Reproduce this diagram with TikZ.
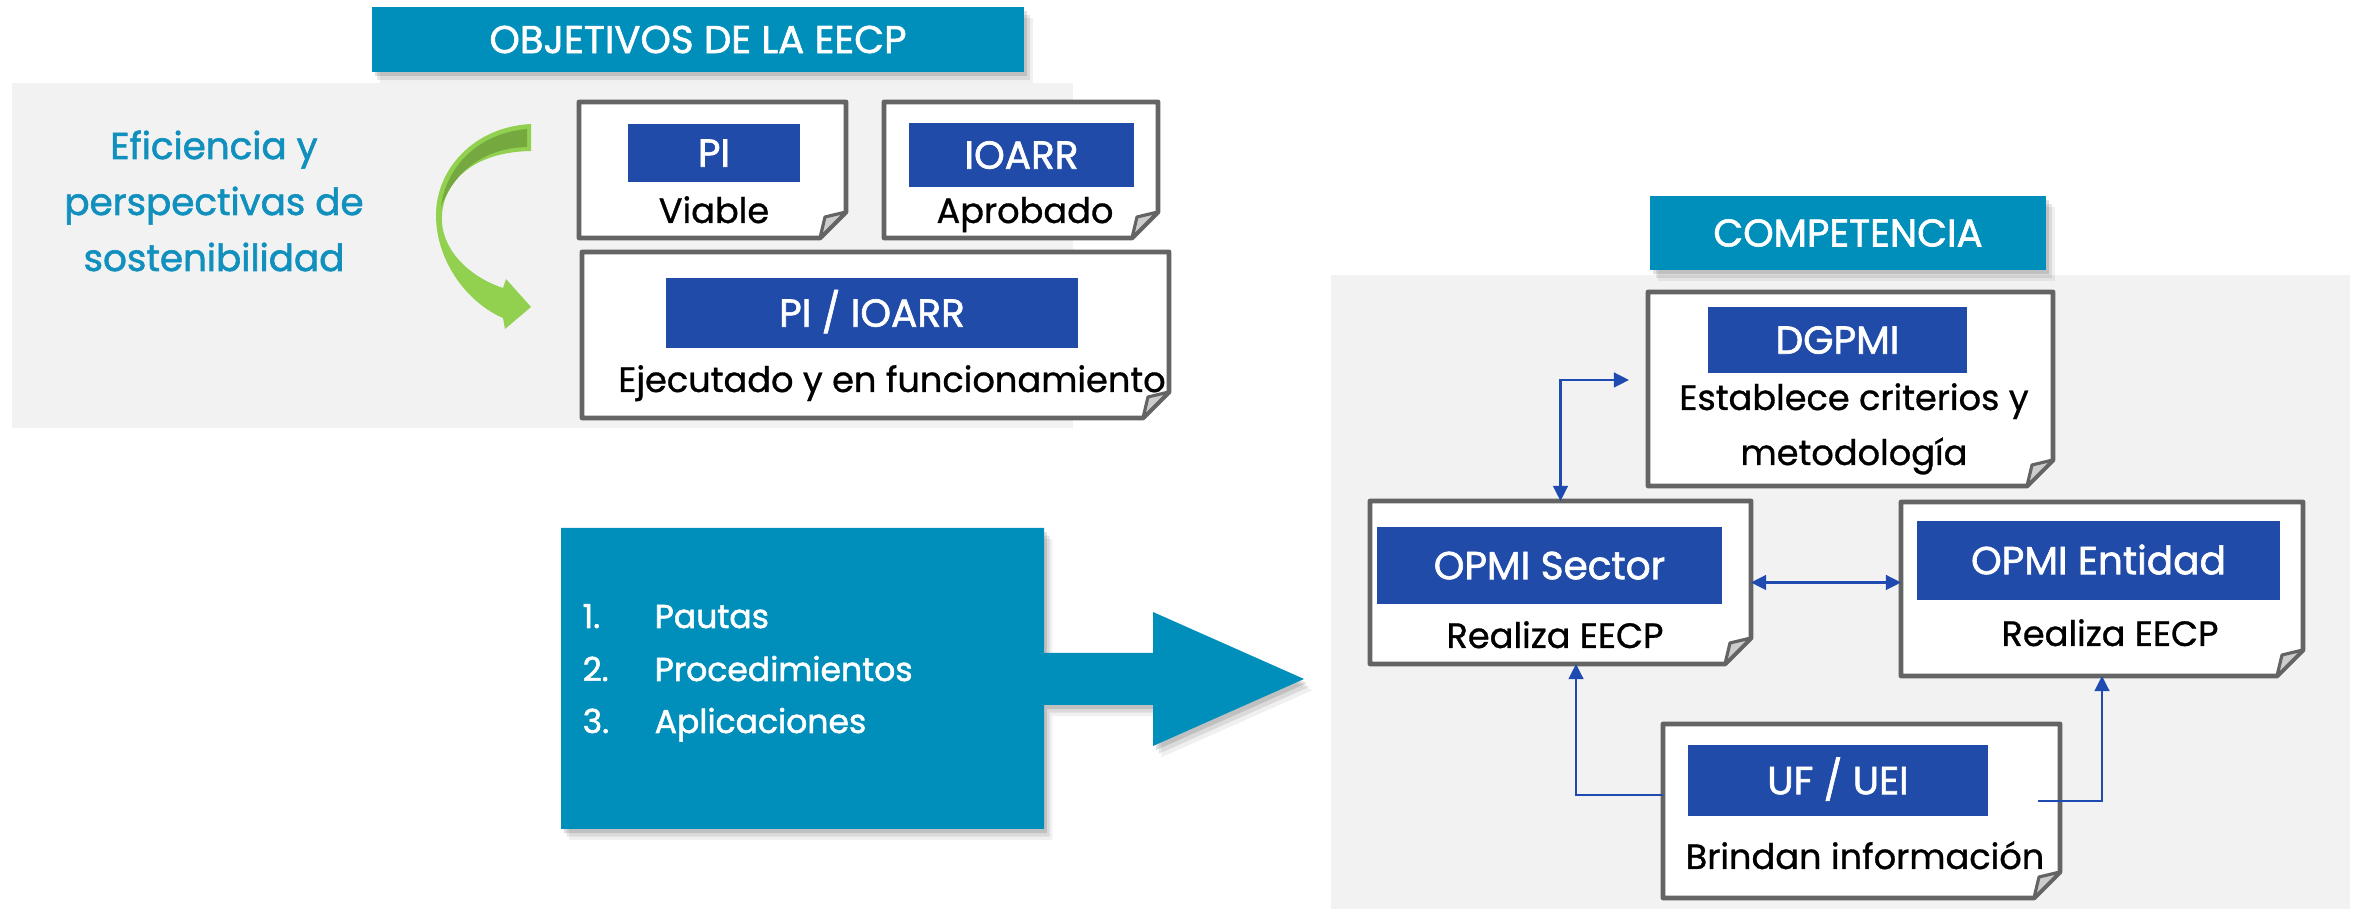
\documentclass[tikz,border=0pt]{standalone}
\usepackage{fontspec}
\setmainfont{Poppins}
\newfontfamily\semib[FakeBold=1.6]{Poppins}
\newfontfamily\lightb[FakeBold=0.9]{Poppins}
\usetikzlibrary{arrows.meta,fit,shadows}
\definecolor{teal1}{RGB}{0,142,186}
\definecolor{lblue}{RGB}{33,75,168}
\definecolor{bggray}{RGB}{242,242,242}
\definecolor{bordergray}{RGB}{100,100,100}
\definecolor{foldgray}{RGB}{205,205,205}
\definecolor{glight}{RGB}{146,208,80}
\definecolor{gdark}{RGB}{118,168,64}
\definecolor{connblue}{RGB}{31,75,176}
\definecolor{tealtext}{RGB}{17,144,190}
\tikzset{
 softshadow/.style={
   drop shadow={shadow xshift=0.8pt,shadow yshift=-1.2pt,opacity=0.12,fill=black},
   drop shadow={shadow xshift=1.6pt,shadow yshift=-2.2pt,opacity=0.09,fill=black},
   drop shadow={shadow xshift=2.4pt,shadow yshift=-3.2pt,opacity=0.06,fill=black}},
 titlebox/.style={fill=teal1,text=white,font=\semib\fontsize{11}{13}\selectfont,inner sep=0pt,text height=7.7pt,text depth=0pt,softshadow},
 lab/.style={fill=lblue,text=white,font=\semib\fontsize{11.1}{13}\selectfont,inner sep=0pt,text height=7.8pt,text depth=0pt},
 desc/.style={font=\lightb\fontsize{10}{12}\selectfont,anchor=base,inner sep=0pt},
 tealtxt/.style={font=\semib\fontsize{10.6}{14}\selectfont,text=tealtext,anchor=base,inner sep=0pt},
 listtxt/.style={font=\semib\fontsize{9.4}{12}\selectfont,text=white,anchor=base west,inner sep=0pt},
 noteline/.style={draw=bordergray,line width=1.35pt,fill=white,line join=round},
 foldline/.style={draw=bordergray,line width=0.9pt,fill=foldgray,line join=round},
 conn/.style={draw=connblue,line width=0.65pt,>={Triangle[length=4.3pt,width=4.2pt]}},
}
\newcommand\notebox[5]{%
 \coordinate (#1-a) at (#2,#3);
 \coordinate (#1-b) at (#4,#5);
 \node[inner sep=0pt,outer sep=0pt,fit=(#1-a)(#1-b)] (#1) {};
 \draw[noteline] (#1.north west) -- (#1.north east) -- ([yshift=0.26cm]#1.south east) -- ([xshift=-0.26cm]#1.south east) -- (#1.south west) -- cycle;
 \draw[foldline] ([yshift=0.26cm]#1.south east) -- ([xshift=-0.21cm,yshift=0.21cm]#1.south east) -- ([xshift=-0.26cm]#1.south east) -- cycle;
}
\begin{document}
\begin{tikzpicture}[x=0.01cm,y=-0.01cm]
\useasboundingbox (0,0) rectangle (2359,910);
% backgrounds
\fill[bggray] (12,83) rectangle (1073,428);
\fill[bggray] (1331,275) rectangle (2350,909);
% titles
\node[titlebox,minimum width=6.52cm,minimum height=0.65cm] (t1) at (698,39.5) {OBJETIVOS DE LA EECP};
\node[titlebox,minimum width=3.96cm,minimum height=0.74cm] (t2) at (1848,233) {COMPETENCIA};
% left text
\node[tealtxt] (eff1) at (214,159) {Eficiencia y};
\node[tealtxt] (eff2) at (214,215) {perspectivas de};
\node[tealtxt] (eff3) at (214,271) {sostenibilidad};
% green curved arrow
\path[fill=glight] (531,124) .. controls (473,127) and (436,170) .. (436,215)
  .. controls (436,262) and (468,303) .. (503,318) -- (505,329) -- (531,307) -- (506,279) -- (503,288)
  .. controls (475,279) and (444,255) .. (442,222) .. controls (440,185) and (470,152) .. (531,151) -- cycle;
\path[fill=gdark] (527,129) -- (527,147) .. controls (485,148) and (455,170) .. (441,207)
  .. controls (445,172) and (473,134) .. (527,129) -- cycle;
% big teal arrow
\path[fill=teal1,softshadow] (561,528) -- (1044,528) -- (1044,653) -- (1153,653) -- (1153,612) -- (1304,679)
  -- (1153,746) -- (1153,705) -- (1044,705) -- (1044,829) -- (561,829) -- cycle;
\node[listtxt] (n1) at (582,628) {1.};
\node[listtxt] (l1) at (654,628) {Pautas};
\node[listtxt] (n2) at (582,681) {2.};
\node[listtxt] (l2) at (654,681) {Procedimientos};
\node[listtxt] (n3) at (582,733) {3.};
\node[listtxt] (l3) at (654,733) {Aplicaciones};
% notes left
\notebox{pi}{579}{102}{846}{238}
\node[lab,minimum width=1.72cm,minimum height=0.58cm] (pi-l) at (714,153) {PI};
\node[desc] (pi-d) at (714,223) {Viable};
\notebox{io}{884}{102}{1158}{238}
\node[lab,minimum width=2.25cm,minimum height=0.64cm] (io-l) at (1021.5,155) {IOARR};
\node[desc] (io-d) at (1025,223) {Aprobado};
\notebox{pio}{582}{252}{1169}{418}
\node[lab,minimum width=4.12cm,minimum height=0.70cm] (pio-l) at (872,313) {PI / IOARR};
\node[desc] (pio-d) at (892,392) {Ejecutado y en funcionamiento};
% notes right
\notebox{dgpmi}{1648}{292}{2053}{486}
\node[lab,minimum width=2.59cm,minimum height=0.66cm] (dgpmi-l) at (1837.5,340) {DGPMI};
\node[desc] (dgpmi-d1) at (1854,410) {Establece criterios y};
\node[desc] (dgpmi-d2) at (1854,465) {metodología};
\notebox{opmis}{1370}{501}{1751}{664}
\node[lab,minimum width=3.45cm,minimum height=0.77cm] (opmis-l) at (1549.5,565.5) {OPMI Sector};
\node[desc] (opmis-d) at (1555,648) {Realiza EECP};
\notebox{opmie}{1901}{502}{2303}{676}
\node[lab,minimum width=3.63cm,minimum height=0.79cm] (opmie-l) at (2098.5,560.5) {OPMI Entidad};
\node[desc] (opmie-d) at (2110,646) {Realiza EECP};
\notebox{ufuei}{1663}{724}{2060}{898}
\node[lab,minimum width=3.00cm,minimum height=0.71cm] (ufuei-l) at (1838,780.5) {UF / UEI};
\node[desc] (ufuei-d) at (1865,869) {Brindan información};
% connectors
\coordinate (dgIn) at ([xshift=-0.19cm,yshift=0.09cm]dgpmi.west);
\draw[conn,<->] (dgIn) -| (opmis.north);
\draw[conn,<->] (opmis.east) -- (opmis.east -| opmie.west);
\draw[conn,->] ([yshift=0.16cm]ufuei.west) -| ([xshift=0.155cm]opmis.south);
\draw[conn,->] ([xshift=-0.22cm,yshift=0.10cm]ufuei.east) -| (opmie.south);
\end{tikzpicture}
\end{document}
